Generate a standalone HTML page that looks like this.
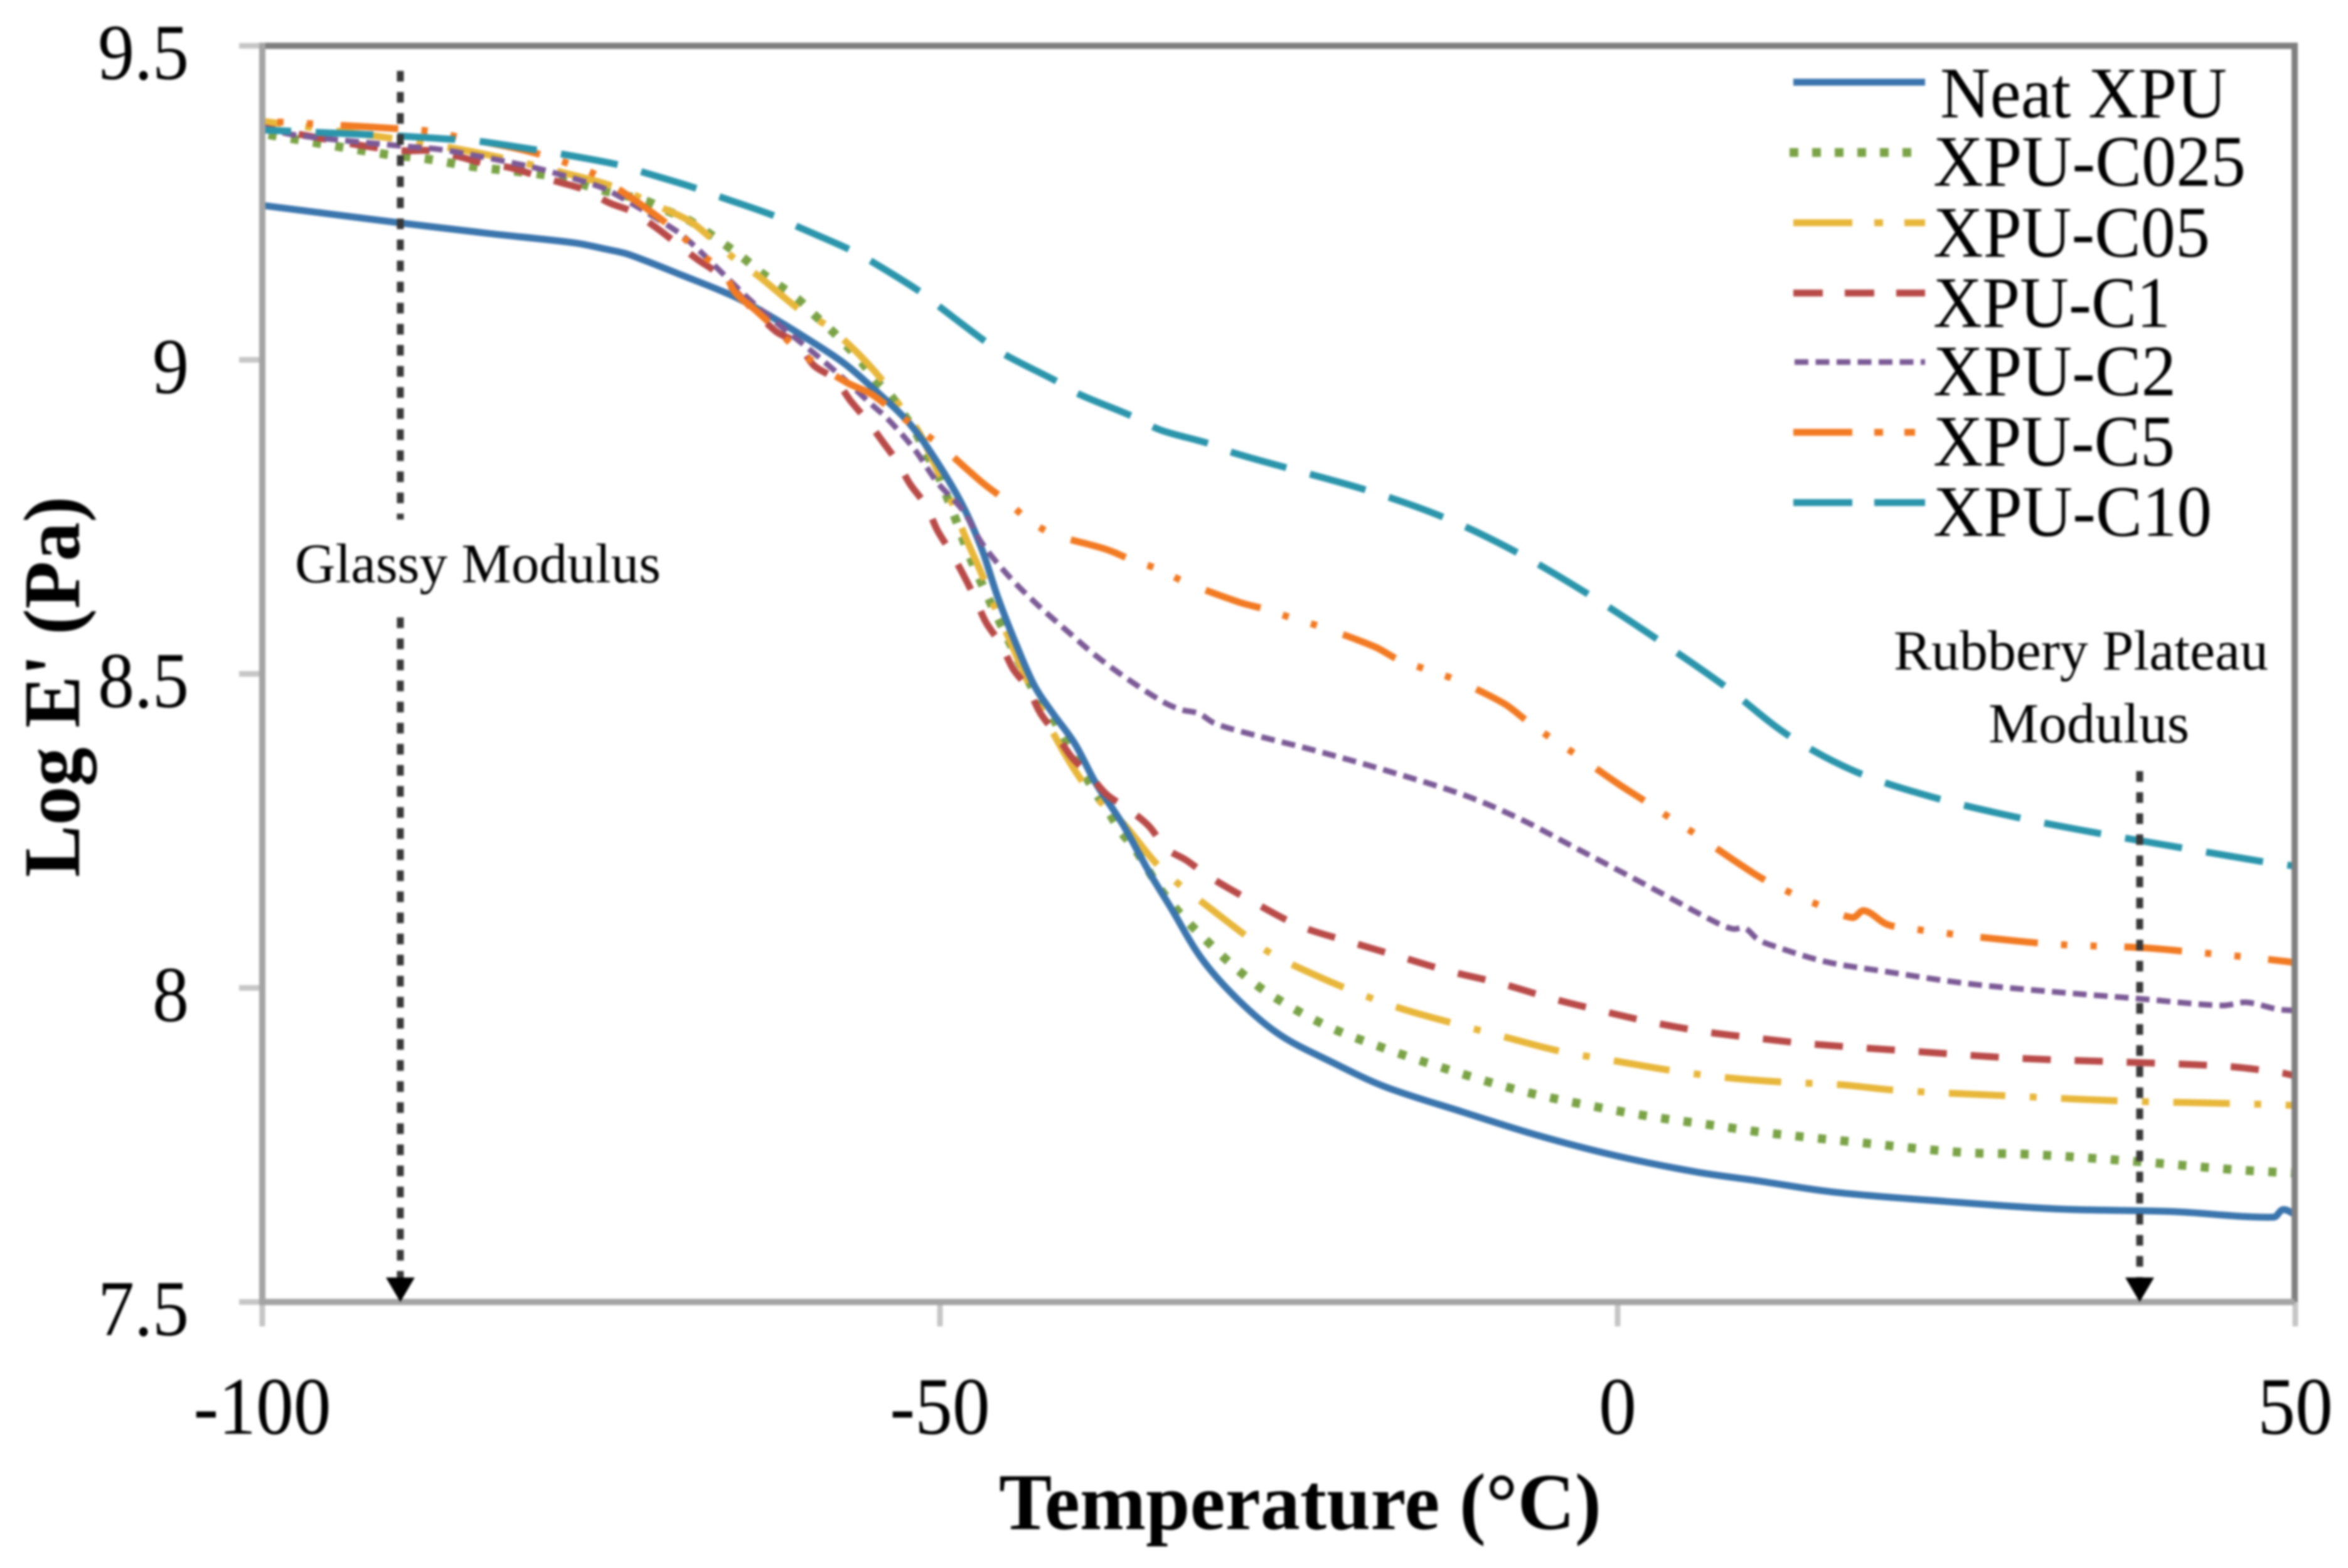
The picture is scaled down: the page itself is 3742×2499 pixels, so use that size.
<!DOCTYPE html>
<html lang="en">
<head>
<meta charset="utf-8">
<title>Log E' vs Temperature</title>
<style>
html,body{margin:0;padding:0;background:#fff;width:3742px;height:2499px;overflow:hidden}
svg{display:block;filter:blur(1.8px)}
text{font-family:"Liberation Serif","DejaVu Serif",serif;fill:#000}
</style>
</head>
<body>
<svg id="chart" xmlns="http://www.w3.org/2000/svg" width="3742" height="2499" viewBox="0 0 3742 2499">
  <rect x="0" y="0" width="3742" height="2499" fill="#fff"/>
  <g id="ticks"></g>
  <g id="series"></g>
  <g fill="none">
    <line x1="418" y1="73" x2="3662" y2="73" stroke="#7f7f7f" stroke-width="10"/>
    <line x1="3657" y1="68" x2="3657" y2="2075" stroke="#7f7f7f" stroke-width="10"/>
    <line x1="418" y1="68" x2="418" y2="2080" stroke="#a4a4a4" stroke-width="10"/>
    <line x1="413" y1="2075" x2="3657" y2="2075" stroke="#a4a4a4" stroke-width="10"/>
  </g>
  <g id="tick-labels"></g>

  <text x="1592" y="2437" font-size="128" font-weight="700" textLength="960" lengthAdjust="spacingAndGlyphs">Temperature (°C)</text>
  <text transform="translate(126,1398) rotate(-90)" font-size="128" font-weight="700" textLength="607" lengthAdjust="spacingAndGlyphs">Log E' (Pa)</text>

  <g>
    <line x1="638" y1="113" x2="638" y2="828" stroke="#383838" stroke-width="11" stroke-dasharray="17 16.6"/>
    <line x1="638" y1="984" x2="638" y2="2042" stroke="#383838" stroke-width="11" stroke-dasharray="17 16.6"/>
    <polygon points="615,2036 661,2036 638,2075" fill="#000"/>
    <text x="470" y="928" font-size="89" textLength="583" lengthAdjust="spacingAndGlyphs">Glassy Modulus</text>
  </g>
  <g>
    <line x1="3410" y1="1229" x2="3410" y2="2042" stroke="#383838" stroke-width="11" stroke-dasharray="17 16.6"/>
    <polygon points="3387,2036 3433,2036 3410,2075" fill="#000"/>
    <text x="3018" y="1067" font-size="90" textLength="597" lengthAdjust="spacingAndGlyphs">Rubbery Plateau</text>
    <text x="3169" y="1183" font-size="90" textLength="320" lengthAdjust="spacingAndGlyphs">Modulus</text>
  </g>

  <g>
    <g>
      <line x1="2858" y1="131" x2="3068" y2="131" stroke="#3a75ad" stroke-width="11"/>
      <text x="3092" y="187" font-size="116" textLength="457" lengthAdjust="spacingAndGlyphs">Neat XPU</text>
    </g>
    <g>
      <line x1="2852" y1="243" x2="3060" y2="243" stroke="#7aa346" stroke-width="14" stroke-dasharray="14 22"/>
      <text x="3081" y="296" font-size="116" textLength="498" lengthAdjust="spacingAndGlyphs">XPU-C025</text>
    </g>
    <g>
      <line x1="2858" y1="355" x2="3068" y2="355" stroke="#e8b73a" stroke-width="11" stroke-dasharray="94 35 14 34"/>
      <text x="3081" y="409" font-size="116" textLength="441" lengthAdjust="spacingAndGlyphs">XPU-C05</text>
    </g>
    <g>
      <line x1="2858" y1="467" x2="3068" y2="467" stroke="#b94a48" stroke-width="11" stroke-dasharray="47 35"/>
      <text x="3081" y="521" font-size="116" textLength="378" lengthAdjust="spacingAndGlyphs">XPU-C1</text>
    </g>
    <g>
      <line x1="2860" y1="577" x2="3068" y2="577" stroke="#7b5a96" stroke-width="9" stroke-dasharray="22 11.5"/>
      <text x="3081" y="630" font-size="116" textLength="387" lengthAdjust="spacingAndGlyphs">XPU-C2</text>
    </g>
    <g>
      <line x1="2858" y1="689" x2="3052" y2="689" stroke="#f27a22" stroke-width="11" stroke-dasharray="94 35 14 34"/>
      <text x="3081" y="742" font-size="116" textLength="385" lengthAdjust="spacingAndGlyphs">XPU-C5</text>
    </g>
    <g>
      <line x1="2858" y1="801" x2="3068" y2="801" stroke="#2a95ab" stroke-width="11" stroke-dasharray="94 35"/>
      <text x="3081" y="854" font-size="116" textLength="444" lengthAdjust="spacingAndGlyphs">XPU-C10</text>
    </g>
  </g>
</svg>
<script>
const xTicks = [-100, -50, 0, 50];
const xTickLabels = ['-100', '-50', '0', '50'];
const yTicks = [9.5, 9, 8.5, 8, 7.5];
const yTickLabels = ['9.5', '9', '8.5', '8', '7.5'];

const neatTemps = [-100,-89.8,-83.2,-76.9,-74.6,-73,-69.06,-65.1,-62.4,-59.75,-57.1,-55,-52.3,-50.2,-48.3,-46.9,-45.7,-44.3,-43,-41.7,-40.05,-38.5,-36.5,-34.5,-33,-30.7,-28,-24.9,-21.1,-17.2,-11.5,-5.7,0.05,5.8,10.3,15.9,24.2,32.6,40.9,48.4,49.1,50];
const neatValues = [9.246,9.218,9.201,9.186,9.176,9.168,9.135,9.1,9.068,9.033,8.995,8.956,8.9,8.837,8.767,8.698,8.62,8.543,8.48,8.438,8.389,8.326,8.26,8.182,8.129,8.047,7.981,7.925,7.882,7.843,7.803,7.764,7.732,7.707,7.693,7.675,7.66,7.648,7.644,7.635,7.647,7.639];

const c025Temps = [-100,-91.1,-87.9,-84.6,-79.7,-78.1,-74.9,-71.7,-70.2,-68.5,-65.9,-64.5,-63.2,-60.5,-59.3,-58.1,-57,-55.8,-54.8,-53.6,-52.7,-51.8,-51,-50.2,-49,-47.8,-46.5,-45.8,-42.8,-41.8,-41,-38.5,-37.6,-36.7,-35.7,-34.7,-33.9,-32.9,-31.8,-30.6,-28.2,-25.6,-21.3,-16.7,-11.9,-7.1,-2.4,2.5,7.5,10.7,17.3,25.5,30.5,38.7,45.3,50];
const c025Values = [9.36,9.328,9.32,9.308,9.296,9.29,9.27,9.253,9.238,9.222,9.184,9.162,9.139,9.097,9.072,9.049,9.025,8.997,8.969,8.942,8.914,8.885,8.851,8.82,8.755,8.687,8.624,8.592,8.462,8.435,8.403,8.31,8.282,8.25,8.224,8.19,8.162,8.134,8.107,8.081,8.032,7.989,7.938,7.9,7.866,7.836,7.814,7.795,7.78,7.77,7.755,7.738,7.735,7.723,7.711,7.705];

const c05Temps = [-100,-90.2,-85.4,-82,-77.8,-74.1,-70.3,-68.4,-66.8,-65.1,-63.3,-60.3,-58.3,-56.8,-55.5,-54.1,-52.9,-51.5,-49.8,-49,-48.2,-46.7,-45.9,-45,-43.5,-41.4,-39.4,-37.9,-36.4,-34,-32.2,-30.5,-27.3,-25.6,-23.8,-20,-16.1,-12,-8,-4.2,0,4.1,8.1,12.3,16.4,20.6,29,37.3,45.4,50];
const c05Values = [9.38,9.352,9.335,9.32,9.298,9.276,9.24,9.22,9.192,9.16,9.132,9.079,9.054,9.026,8.998,8.963,8.925,8.883,8.805,8.767,8.722,8.648,8.603,8.561,8.487,8.396,8.326,8.291,8.26,8.197,8.162,8.134,8.081,8.055,8.035,7.999,7.968,7.943,7.92,7.899,7.883,7.868,7.857,7.85,7.846,7.837,7.828,7.82,7.816,7.813];

const c1Temps = [-100,-92.6,-89.6,-87.5,-85.4,-83.7,-81.7,-80,-78.1,-76.1,-74.4,-72.7,-71.1,-69.7,-67.9,-66.5,-62.2,-60.5,-59.3,-57.8,-56.6,-55.4,-54.3,-53.1,-52.2,-51,-50.2,-49.2,-48.3,-47.4,-46.6,-45.5,-44.6,-43.5,-42.6,-41.4,-40.3,-39,-37.7,-36.2,-34.6,-33.3,-31.8,-30.2,-26.9,-23.4,-19.7,-16.1,-12.5,-8.6,-5,-1.1,2.6,6.5,10.3,14.1,21.9,29.5,37.3,45,48.9,50];
const c1Values = [9.37,9.341,9.333,9.333,9.323,9.313,9.306,9.295,9.283,9.27,9.25,9.236,9.213,9.19,9.16,9.139,9.047,9.026,8.991,8.97,8.935,8.904,8.872,8.836,8.802,8.767,8.729,8.694,8.659,8.62,8.582,8.547,8.508,8.477,8.438,8.403,8.368,8.34,8.308,8.286,8.258,8.222,8.203,8.178,8.137,8.098,8.073,8.05,8.027,8.007,7.984,7.963,7.945,7.93,7.92,7.911,7.899,7.888,7.882,7.875,7.865,7.86];

const c2Temps = [-100,-97.6,-90,-86.9,-84.2,-81.4,-79.9,-78.5,-75.7,-74.3,-69.5,-68.1,-66.1,-63.9,-61.6,-59.2,-57.1,-55,-53.9,-51.9,-50.2,-48.3,-46.9,-44.9,-42.8,-40.6,-38.5,-36.1,-33.5,-32.2,-30.9,-29.7,-26.7,-22.5,-16.9,-11.2,-7.1,-3.2,0.6,3.3,7.1,8.5,9.4,10.3,11.2,15.3,19.8,25.4,31.5,38.4,44.6,46.4,48.7,50];
const c2Values = [9.37,9.358,9.341,9.335,9.325,9.313,9.306,9.298,9.28,9.268,9.206,9.181,9.139,9.093,9.051,9.009,8.97,8.928,8.907,8.858,8.805,8.76,8.708,8.655,8.61,8.568,8.529,8.491,8.455,8.443,8.437,8.421,8.402,8.379,8.345,8.306,8.268,8.224,8.181,8.15,8.106,8.094,8.095,8.078,8.069,8.042,8.026,8.008,7.995,7.983,7.972,7.977,7.966,7.964];

const c5Temps = [-100,-92.2,-90,-88,-85.8,-80,-75.7,-73.8,-70.7,-69,-67.3,-66,-65.1,-63.6,-62,-60.3,-58.7,-56.8,-55.1,-53.4,-51.6,-49.9,-46.9,-45.2,-43.5,-41.7,-37.7,-35.8,-33.8,-31.9,-27.9,-26,-23.9,-21.9,-17.9,-16.2,-14.1,-12,-8.4,-6.8,-5,-3.1,0.1,1.9,3.7,5.6,8.8,10.6,12.6,14.5,17.3,18.2,19.9,22.1,24.2,28.4,32.6,38.7,43,45.1,49.4,50];
const c5Values = [9.38,9.371,9.368,9.365,9.356,9.33,9.298,9.273,9.226,9.196,9.163,9.142,9.107,9.079,9.047,9.012,8.988,8.963,8.946,8.918,8.89,8.862,8.805,8.777,8.746,8.723,8.698,8.681,8.666,8.646,8.614,8.603,8.588,8.575,8.543,8.523,8.507,8.491,8.453,8.427,8.399,8.372,8.324,8.299,8.273,8.247,8.2,8.175,8.153,8.135,8.112,8.123,8.101,8.093,8.087,8.077,8.069,8.064,8.056,8.052,8.042,8.04];

const c10Temps = [-100,-89.6,-85.9,-84,-80,-78,-73.8,-72.1,-68.4,-66.3,-62.3,-60.5,-56.8,-55,-51.5,-50,-46.7,-45.1,-41.4,-39.8,-35.9,-33.7,-30.2,-28.5,-24.4,-18.6,-12.8,-7.4,-2.1,3,8,12.6,17.6,23.2,29.8,35.8,41.9,47.9,50];
const c10Values = [9.366,9.356,9.351,9.348,9.335,9.328,9.311,9.3,9.276,9.26,9.23,9.212,9.177,9.156,9.109,9.084,9.03,9.007,8.966,8.946,8.911,8.888,8.867,8.853,8.828,8.793,8.749,8.693,8.626,8.554,8.479,8.402,8.344,8.304,8.27,8.245,8.222,8.2,8.194];

const X_MIN = -100, X_MAX = 50, Y_MIN = 7.5, Y_MAX = 9.5;
const PLOT_LEFT = 418, PLOT_RIGHT = 3658, PLOT_TOP = 73, PLOT_BOTTOM = 2075;
const SVG_NS = 'http://www.w3.org/2000/svg';

function xScale(t) {
  return PLOT_LEFT + (t - X_MIN) / (X_MAX - X_MIN) * (PLOT_RIGHT - PLOT_LEFT);
}
function yScale(v) {
  return PLOT_TOP + (Y_MAX - v) / (Y_MAX - Y_MIN) * (PLOT_BOTTOM - PLOT_TOP);
}
function pathFrom(temps, values) {
  const pts = temps.map(function (t, i) {
    return [xScale(t), yScale(values[i])];
  });
  function tangent(i) {
    const a = pts[Math.max(i - 1, 0)];
    const b = pts[Math.min(i + 1, pts.length - 1)];
    const dx = b[0] - a[0];
    const dy = b[1] - a[1];
    const len = Math.hypot(dx, dy) || 1;
    return [dx / len, dy / len];
  }
  let d = 'M' + pts[0][0].toFixed(1) + ' ' + pts[0][1].toFixed(1);
  for (let i = 0; i < pts.length - 1; i++) {
    const p = pts[i];
    const q = pts[i + 1];
    const h = Math.hypot(q[0] - p[0], q[1] - p[1]) / 3;
    const t0 = tangent(i);
    const t1 = tangent(i + 1);
    d += ' C' + (p[0] + t0[0] * h).toFixed(1) + ' ' + (p[1] + t0[1] * h).toFixed(1) +
         ' ' + (q[0] - t1[0] * h).toFixed(1) + ' ' + (q[1] - t1[1] * h).toFixed(1) +
         ' ' + q[0].toFixed(1) + ' ' + q[1].toFixed(1);
  }
  return d;
}
function drawSeries(name, temps, values, color, width, dash, phase) {
  const p = document.createElementNS(SVG_NS, 'path');
  
  
  p.setAttribute('d', pathFrom(temps, values));
  p.setAttribute('fill', 'none');
  p.setAttribute('stroke', color);
  p.setAttribute('stroke-width', width);
  p.setAttribute('stroke-linejoin', 'round');
  if (dash) {
    p.setAttribute('stroke-dasharray', dash);
    p.setAttribute('stroke-dashoffset', phase);
  }
  document.getElementById('series').appendChild(p);
}

drawSeries('series-xpu-c025', c025Temps, c025Values, '#7aa346', 14, '13 23', 26);
drawSeries('series-xpu-c05', c05Temps, c05Values, '#e8b73a', 11, '90 39 11 39', 60);
drawSeries('series-neat-xpu', neatTemps, neatValues, '#3a75ad', 11, '', 0);
drawSeries('series-xpu-c1', c1Temps, c1Values, '#b94a48', 11, '45 38', 24);
drawSeries('series-xpu-c2', c2Temps, c2Values, '#7b5a96', 9, '22 11.5', 0);
drawSeries('series-xpu-c5', c5Temps, c5Values, '#f27a22', 11, '92 37 10 37 10 44', 105);
drawSeries('series-xpu-c10', c10Temps, c10Values, '#2a95ab', 11, '92 39', 46);

const tickGroup = document.getElementById('ticks');
const labelGroup = document.getElementById('tick-labels');

xTicks.forEach(function (t, i) {
  const tick = document.createElementNS(SVG_NS, 'line');
  
  
  tick.setAttribute('x1', xScale(t));
  tick.setAttribute('x2', xScale(t));
  tick.setAttribute('y1', PLOT_BOTTOM);
  tick.setAttribute('y2', PLOT_BOTTOM + 39);
  tick.setAttribute('stroke', '#c6c6c6');
  tick.setAttribute('stroke-width', '9');
  tickGroup.appendChild(tick);

  const label = document.createElementNS(SVG_NS, 'text');
  
  
  label.setAttribute('transform', 'translate(' + xScale(t) + ',2285) scale(0.92,1)');
  label.setAttribute('text-anchor', 'middle');
  label.setAttribute('font-size', '130');
  label.textContent = xTickLabels[i];
  labelGroup.appendChild(label);
});

yTicks.forEach(function (v, i) {
  const tick = document.createElementNS(SVG_NS, 'line');
  
  
  tick.setAttribute('x1', PLOT_LEFT - 37);
  tick.setAttribute('x2', PLOT_LEFT);
  tick.setAttribute('y1', yScale(v));
  tick.setAttribute('y2', yScale(v));
  tick.setAttribute('stroke', '#c6c6c6');
  tick.setAttribute('stroke-width', '9');
  tickGroup.appendChild(tick);

  const label = document.createElementNS(SVG_NS, 'text');
  
  
  label.setAttribute('transform', 'translate(301,' + (yScale(v) + 53) + ') scale(0.92,1)');
  label.setAttribute('text-anchor', 'end');
  label.setAttribute('font-size', '126');
  label.textContent = yTickLabels[i];
  labelGroup.appendChild(label);
});
</script>
</body>
</html>
